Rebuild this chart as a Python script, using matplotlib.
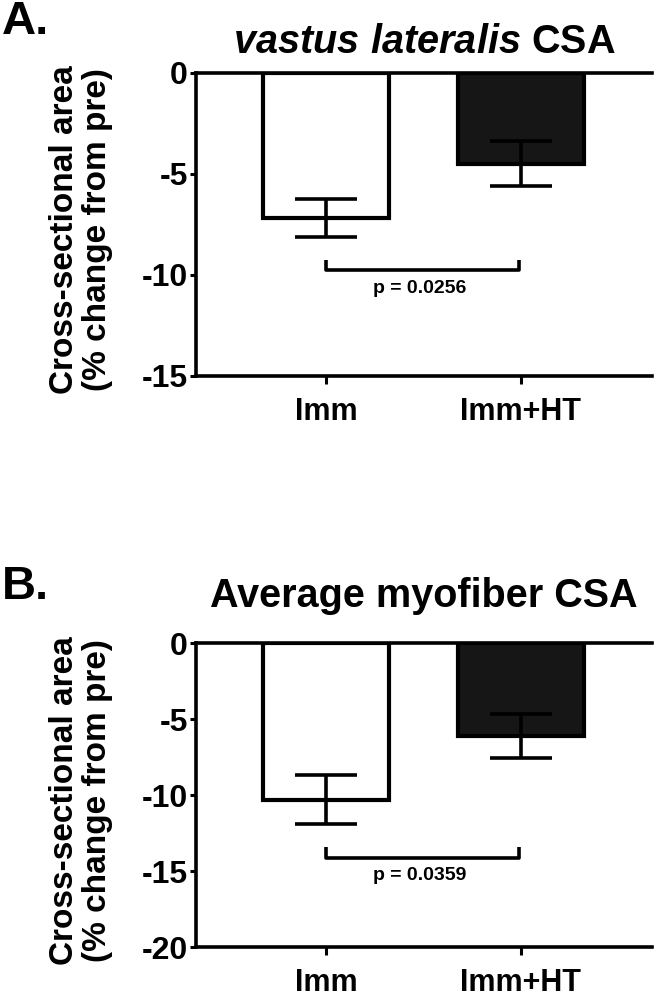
import numpy as np
import matplotlib.pyplot as plt

groups = ["Imm", "Imm+HT"]

# panel A: vastus lateralis CSA, % change from pre
vl_mean = [-7.2, -4.5]
vl_sem = [0.95, 1.1]
vl_p = "p = 0.0256"
vl_bracket = [-9.25, -9.75]   # tip, bar
vl_ptext_y = -10.65
vl_ylim = (-15, 0)
vl_ticks = [0, -5, -10, -15]

# panel B: average myofiber CSA, % change from pre
mf_mean = [-10.3, -6.1]
mf_sem = [1.6, 1.45]
mf_p = "p = 0.0359"
mf_bracket = [-13.4, -14.15]
mf_ptext_y = -15.3
mf_ylim = (-20, 0)
mf_ticks = [0, -5, -10, -15, -20]

bar_colors = ["white", "#161616"]

plt.rcParams['font.family'] = ['Liberation Sans', 'DejaVu Sans']
plt.rcParams['font.weight'] = 'bold'
plt.rcParams['mathtext.fontset'] = 'custom'
plt.rcParams['mathtext.it'] = 'Liberation Sans:bold:italic'
plt.rcParams['mathtext.rm'] = 'Liberation Sans:bold'
plt.rcParams['mathtext.bf'] = 'Liberation Sans:bold'


def draw_panel(ax, mean, sem, ylim, ticks, bracket, ptext, ptext_y):
    x = np.arange(len(groups))
    ax.bar(x, mean, width=0.646, color=bar_colors, edgecolor="black",
           linewidth=3, zorder=2)
    ax.errorbar(x, mean, yerr=sem, fmt="none", ecolor="black",
                elinewidth=2.6, capsize=22, capthick=2.6, zorder=3)

    # significance bracket
    ax.plot([0.0, 0.0, 0.99, 0.99],
            [bracket[0], bracket[1], bracket[1], bracket[0]],
            color="black", lw=2.6, solid_capstyle="butt", zorder=3)
    ax.text(0.48, ptext_y, ptext, ha="center", va="center",
            fontsize=14, fontweight="bold")

    ax.set_xlim(-0.667, 1.672)
    ax.set_ylim(*ylim)
    ax.set_yticks(ticks)
    ax.set_yticklabels([str(t) for t in ticks])
    ax.set_xticks(x)
    ax.set_xticklabels(groups, fontsize=22, fontweight="bold")

    for s in ["left", "top", "bottom"]:
        ax.spines[s].set_linewidth(2.6)
    ax.spines["right"].set_visible(False)
    ax.tick_params(axis="y", labelsize=23, width=2.2, length=4, pad=2)
    ax.tick_params(axis="x", width=2.2, length=6, pad=9)


fig = plt.figure(figsize=(6.65, 10.01), dpi=100)

ax1 = fig.add_axes([0.2947, 0.6244, 0.6857, 0.3030])
draw_panel(ax1, vl_mean, vl_sem, vl_ylim, vl_ticks, vl_bracket, vl_p, vl_ptext_y)
ax1.set_title(r"$\it{vastus\ lateralis}$ CSA", fontsize=28.5,
              fontweight="bold", pad=14)

ax2 = fig.add_axes([0.2947, 0.0539, 0.6857, 0.3037])
draw_panel(ax2, mf_mean, mf_sem, mf_ylim, mf_ticks, mf_bracket, mf_p, mf_ptext_y)
ax2.set_title("Average myofiber CSA", fontsize=28.5, fontweight="bold", pad=26)

ylab = "Cross-sectional area\n(% change from pre)"
fig.text(81 / 665, 0.771, ylab, rotation=90, ha="center", va="center",
         fontsize=24, fontweight="bold", linespacing=1.1)
fig.text(81 / 665, 0.200, ylab, rotation=90, ha="center", va="center",
         fontsize=24, fontweight="bold", linespacing=1.1)

fig.text(0.003, 0.978, "A.", ha="left", va="center", fontsize=34, fontweight="bold")
fig.text(0.003, 0.414, "B.", ha="left", va="center", fontsize=34, fontweight="bold")

fig.savefig("out.png", dpi=100)
